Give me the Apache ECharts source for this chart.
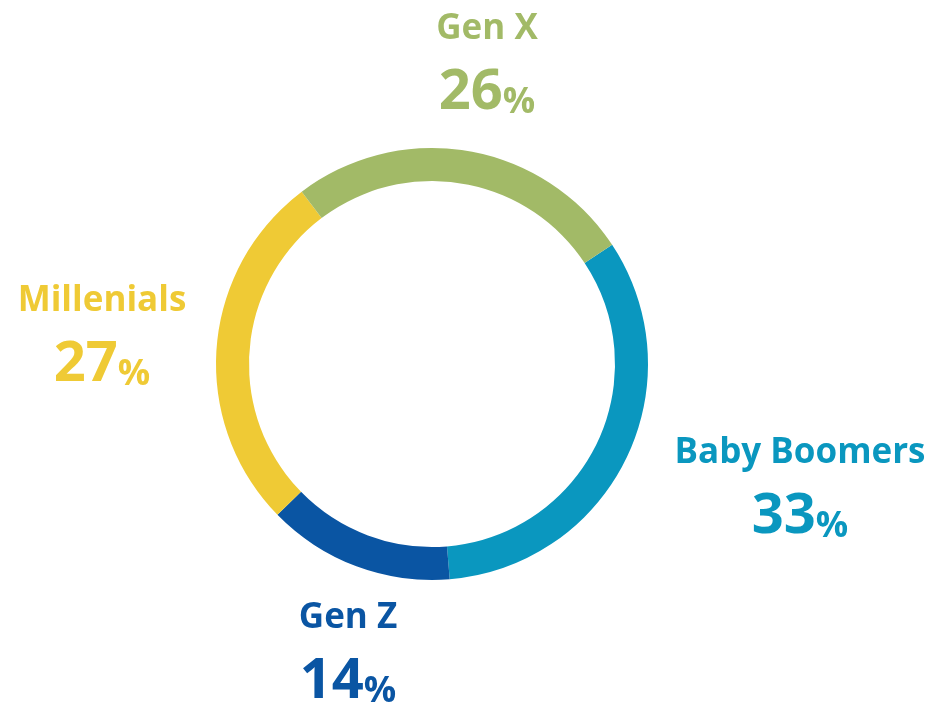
<!DOCTYPE html>
<html>
<head>
<meta charset="utf-8">
<script src="https://cdn.jsdelivr.net/npm/echarts@6/dist/echarts.min.js"></script>
<style>html,body{margin:0;padding:0;background:#fff}#c{width:934px;height:702px}</style>
</head>
<body>
<div id="c"></div>
<script>
const categories = ['Baby Boomers', 'Gen Z', 'Millenials', 'Gen X'];
const values = [33, 14, 27, 26];
const colors = ['#0A97BF', '#0A55A3', '#EFCA35', '#A2BA67'];
// label block centers (layout, not data)
const labelCenters = [[800, 485], [348, 650], [102, 333], [487, 61]];

const chart = echarts.init(document.getElementById('c'), null, {renderer: 'canvas'});
const font = '"Open Sans", sans-serif';
chart.setOption({
  animation: false,
  series: [{
    type: 'pie',
    center: [432, 364],
    radius: [183, 216],
    startAngle: 33.5,
    clockwise: true,
    avoidLabelOverlap: false,
    labelLine: {show: false},
    data: categories.map((c, i) => ({
      name: c, value: values[i],
      itemStyle: {color: colors[i]},
      label: {color: colors[i]}
    })),
    label: {
      show: true,
      position: 'outside',
      formatter: p => '{n|' + p.name + '}\n{v|' + p.value + '}{p|%}',
      align: 'center',
      rich: {
        n: {fontFamily: font, fontWeight: 'bold', fontSize: 35, lineHeight: 56, align: 'center'},
        v: {fontFamily: font, fontWeight: 'bold', fontSize: 56, lineHeight: 64, verticalAlign: 'bottom'},
        p: {fontFamily: font, fontWeight: 'bold', fontSize: 36, lineHeight: 50, verticalAlign: 'bottom'}
      }
    },
    labelLayout: function (params) {
      const pos = labelCenters[params.dataIndex];
      return {x: pos[0], y: pos[1], align: 'center', verticalAlign: 'middle'};
    }
  }]
});
</script>
</body>
</html>
